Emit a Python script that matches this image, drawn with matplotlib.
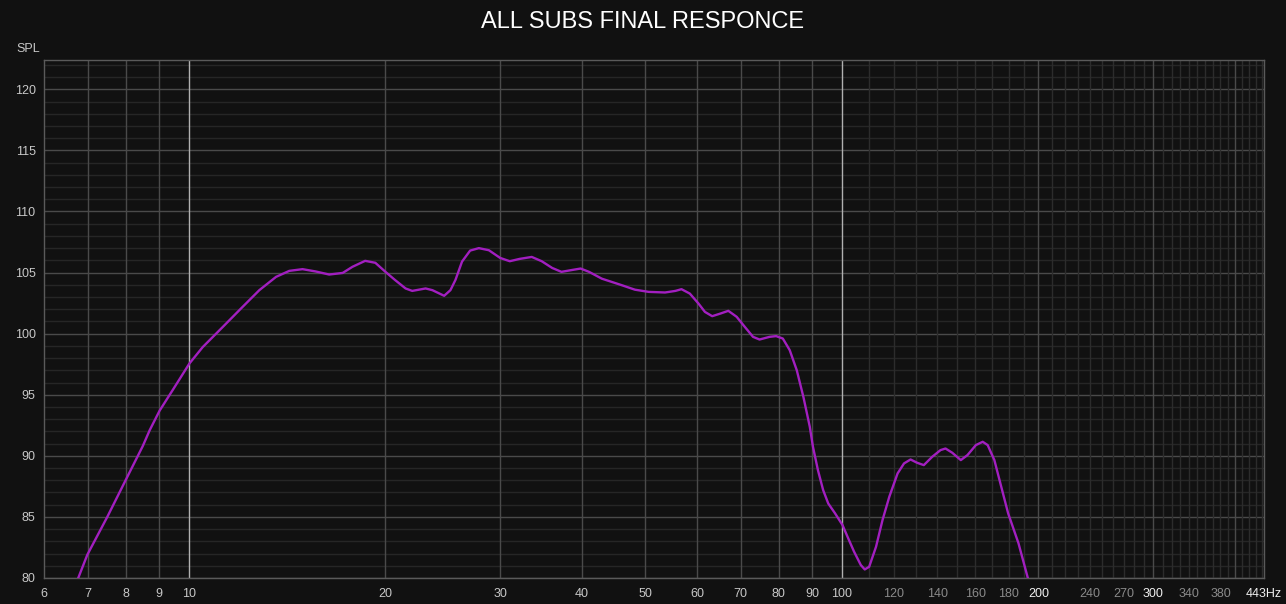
import numpy as np
import matplotlib
matplotlib.use('Agg')
import matplotlib.pyplot as plt

# frequency response (Hz, dB SPL)
freq = [6.77, 6.99, 7.5, 8.0, 8.5, 8.71, 9.02, 9.45, 10.02, 10.5, 11.27, 12.09,
        12.82, 13.6, 14.25, 14.93, 15.64, 16.4, 17.2, 17.8, 18.62, 19.3, 20.0, 20.7,
        21.47, 21.98, 23.04, 23.6, 24.6, 25.15, 25.6, 26.2, 26.96, 27.8, 28.8, 29.97,
        31.0, 32.1, 33.5, 34.7, 36.0, 37.2, 38.5, 39.8, 41.0, 42.9, 46.0, 48.2,
        50.6, 53.6, 55.6, 56.8, 58.5, 60.3, 61.7, 63.3, 65.2, 67.0, 69.0, 71.0,
        73.1, 74.8, 77.5, 79.3, 81.2, 83.2, 85.3, 87.3, 89.3, 90.3, 91.9, 93.6,
        95.3, 97.6, 100.2, 102.0, 104.4, 106.9, 108.4, 110.1, 112.8, 115.4, 118.2,
        121.7, 124.5, 127.4, 130.4, 133.5, 137.5, 141.6, 144.1, 147.6, 152.1, 155.7,
        160.4, 164.3, 167.2, 171.2, 175.4, 179.7, 186.4, 193.0]
spl = [80.0, 81.9, 85.0, 88.0, 90.8, 92.1, 93.7, 95.4, 97.56, 98.9, 100.55, 102.2,
       103.56, 104.65, 105.14, 105.28, 105.09, 104.84, 104.97, 105.47, 105.96, 105.8, 105.06, 104.38,
       103.7, 103.5, 103.7, 103.56, 103.1, 103.56, 104.4, 105.9, 106.8, 107.0, 106.83, 106.2,
       105.93, 106.12, 106.28, 105.93, 105.38, 105.06, 105.2, 105.33, 105.06, 104.5, 103.97, 103.6,
       103.42, 103.37, 103.5, 103.64, 103.28, 102.47, 101.78, 101.43, 101.65, 101.87, 101.38, 100.56,
       99.74, 99.52, 99.74, 99.8, 99.6, 98.65, 97.0, 94.83, 92.38, 90.74, 88.83, 87.2,
       86.1, 85.3, 84.34, 83.38, 82.15, 81.06, 80.7, 80.92, 82.56, 84.74, 86.65,
       88.56, 89.38, 89.7, 89.43, 89.24, 89.92, 90.47, 90.6, 90.25, 89.65, 90.06,
       90.88, 91.15, 90.88, 89.65, 87.47, 85.3, 82.84, 79.84]

x_ticks = [6, 7, 8, 9, 10, 20, 30, 40, 50, 60, 70, 80, 90, 100,
           120, 140, 160, 180, 200, 240, 270, 300, 340, 380, 443]
x_labels = ['6', '7', '8', '9', '10', '20', '30', '40', '50', '60', '70', '80', '90', '100',
            '120', '140', '160', '180', '200', '240', '270', '300', '340', '380', '443Hz']
dim_labels = ['120', '140', '160', '180', '240', '270', '340', '380']
y_ticks = [80, 85, 90, 95, 100, 105, 110, 115, 120]

bg = '#111111'
fig = plt.figure(figsize=(12.86, 6.04), dpi=100, facecolor=bg)
ax = fig.add_axes([44 / 1286, 26 / 604, 1220 / 1286, 518 / 604])
ax.set_facecolor(bg)
ax.set_xscale('log')
ax.set_xlim(6.07, 443)
ax.set_ylim(80, 122.4)

# horizontal grid
for v in range(80, 123):
    c = '#4a4a4a' if v % 5 == 0 else '#262626'
    ax.axhline(v, color=c, lw=1, zorder=1)

# vertical grid
for f in [7, 8, 9, 20, 30, 40, 50, 60, 70, 80, 90, 200, 300, 400]:
    ax.axvline(f, color='#4a4a4a', lw=1, zorder=2)
for f in list(range(110, 200, 10)) + list(range(210, 450, 10)):
    if f not in (300, 400):
        ax.axvline(f, color='#2c2c2c', lw=1, zorder=1)
for f in [10, 100]:
    ax.axvline(f, color='#b0b0b0', lw=1, zorder=2)

ax.plot(freq, spl, color='#a21fc0', lw=1.7, zorder=5, solid_joinstyle='round')

ax.set_xticks(x_ticks)
ax.set_xticklabels(x_labels)
ax.xaxis.set_minor_locator(matplotlib.ticker.NullLocator())
ax.set_yticks(y_ticks)
ax.tick_params(axis='both', length=0, labelsize=9, colors='#c8c8c8')
ax.tick_params(axis='x', pad=7)
ax.tick_params(axis='y', pad=6)
for lab in ax.get_xticklabels():
    lab.set_fontfamily('Liberation Sans')
    if lab.get_text() in dim_labels:
        lab.set_color('#8a8a8a')
    elif lab.get_text() in ('200', '300', '443Hz'):
        lab.set_color('#f0f0f0')
for lab in ax.get_yticklabels():
    lab.set_fontfamily('Liberation Sans')

for s in ax.spines.values():
    s.set_color('#5a5a5a')
    s.set_linewidth(1)

fig.text(28 / 1286, 1 - 49 / 604, 'SPL', color='#c8c8c8', fontsize=9,
         family='Liberation Sans', ha='center', va='center')
fig.text(0.5, 1 - 22 / 604, 'ALL SUBS FINAL RESPONCE', color='white', fontsize=17,
         family='Liberation Sans', ha='center', va='center')

fig.savefig('out.png', dpi=100, facecolor=bg)
